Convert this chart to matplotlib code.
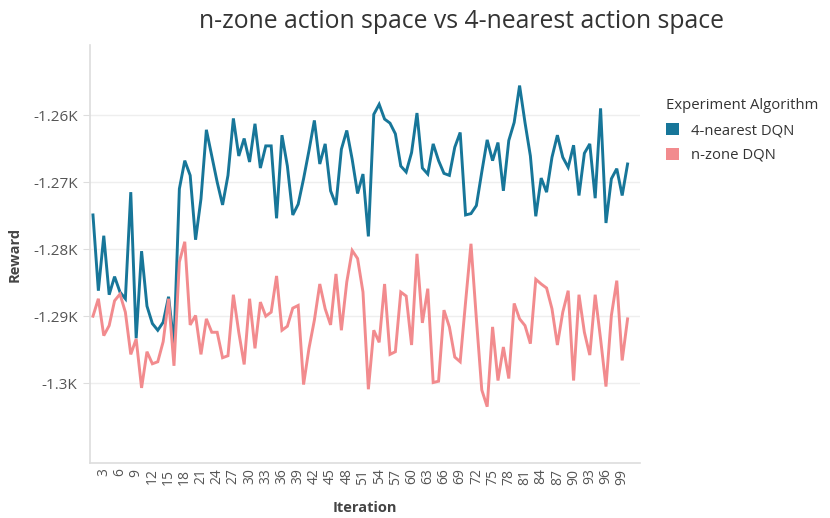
import matplotlib
matplotlib.use("Agg")
import matplotlib.pyplot as plt
from matplotlib.patches import Patch
from matplotlib.ticker import FuncFormatter

plt.rcParams['font.family'] = ['Open Sans', 'DejaVu Sans']

iterations = list(range(1, 101))

nearest4_dqn = [
    -1274.9, -1286.2, -1278.0, -1286.8, -1284.1, -1286.4, -1287.4, -1271.5, -1293.3, -1280.3,
    -1288.5, -1291.1, -1292.1, -1290.9, -1287.1, -1294.3, -1271.0, -1266.8, -1269.0, -1278.6,
    -1272.5, -1262.2, -1266.1, -1270.0, -1273.4, -1269.0, -1260.5, -1266.1, -1263.5, -1267.0,
    -1261.3, -1267.9, -1264.6, -1264.6, -1275.4, -1263.0, -1267.6, -1274.9, -1273.3, -1269.5,
    -1265.3, -1260.8, -1267.3, -1264.3, -1271.3, -1273.4, -1265.1, -1262.3, -1266.6, -1271.7,
    -1268.8, -1278.1, -1259.9, -1258.4, -1260.6, -1261.2, -1262.8, -1267.6, -1268.5, -1265.6,
    -1259.7, -1267.9, -1268.8, -1264.3, -1266.8, -1268.7, -1269.0, -1264.8, -1262.6, -1274.9,
    -1274.7, -1273.5, -1268.5, -1263.7, -1266.8, -1264.1, -1271.3, -1263.8, -1261.1, -1255.6,
    -1261.1, -1266.1, -1275.1, -1269.4, -1271.5, -1266.3, -1263.0, -1266.3, -1267.8, -1264.5,
    -1272.0, -1265.7, -1264.3, -1272.4, -1259.0, -1276.1, -1269.5, -1268.0, -1272.0, -1267.3,
]

nzone_dqn = [
    -1290.0, -1287.4, -1292.9, -1291.4, -1287.7, -1286.7, -1289.4, -1295.7, -1293.4, -1300.7,
    -1295.3, -1297.1, -1296.8, -1293.8, -1287.4, -1297.4, -1281.9, -1278.9, -1291.3, -1289.9,
    -1295.7, -1290.4, -1292.4, -1292.4, -1296.2, -1295.9, -1286.8, -1292.4, -1297.2, -1287.4,
    -1294.8, -1287.9, -1290.0, -1289.4, -1284.0, -1292.1, -1291.5, -1288.8, -1288.4, -1300.2,
    -1294.8, -1290.6, -1285.2, -1288.9, -1291.3, -1283.7, -1292.1, -1284.9, -1280.2, -1281.4,
    -1286.4, -1300.9, -1292.1, -1293.9, -1285.2, -1295.7, -1295.3, -1286.4, -1287.0, -1294.3,
    -1280.7, -1291.0, -1285.9, -1299.9, -1299.7, -1289.1, -1291.6, -1296.1, -1296.8, -1287.9,
    -1279.2, -1290.4, -1301.0, -1303.5, -1291.6, -1299.6, -1294.6, -1299.3, -1288.1, -1290.4,
    -1291.4, -1294.1, -1284.5, -1285.2, -1285.8, -1288.9, -1294.3, -1289.4, -1286.2, -1299.6,
    -1286.8, -1292.4, -1295.8, -1286.8, -1293.4, -1300.5, -1289.9, -1284.7, -1296.6, -1290.4,
]

series_names = ["4-nearest DQN", "n-zone DQN"]
series_colors = ["#177699", "#f28b8e"]
x_ticks = list(range(3, 100, 3))
y_ticks = [-1300, -1290, -1280, -1270, -1260]

fig = plt.figure(figsize=(8.3, 5.18), dpi=100)
ax = fig.add_axes([90/830, 1 - 463/518, 550/830, 418/518])

ax.plot(iterations, nearest4_dqn, color=series_colors[0], lw=2.1, solid_joinstyle='miter', zorder=3)
ax.plot(iterations, nzone_dqn, color=series_colors[1], lw=2.1, solid_joinstyle='miter', zorder=3)

ax.set_xlim(0.45, 102.3)
ax.set_ylim(-1311.9, -1249.55)

ax.set_xticks(x_ticks)
ax.set_xticklabels([str(t) for t in x_ticks], rotation=90, fontsize=10, color='#555555')
ax.tick_params(axis='x', length=0, pad=4)
ax.set_yticks(y_ticks)

def kfmt(v, pos):
    s = f"{v/1000:.3f}".rstrip('0').rstrip('.')
    return s + "K"
ax.yaxis.set_major_formatter(FuncFormatter(kfmt))
ax.tick_params(axis='y', length=5, color='#dddddd', labelsize=11, labelcolor='#555555', pad=4)

ax.grid(axis='y', color='#eeeeee', lw=1)
ax.set_axisbelow(True)
for side in ['top', 'right']:
    ax.spines[side].set_visible(False)
for side in ['left', 'bottom']:
    ax.spines[side].set_color('#dddddd')
    ax.spines[side].set_linewidth(1.2)

fig.text(15/830, 1 - 254/518, "Reward", rotation=90, ha='center', va='center',
         fontsize=10.5, fontweight='bold', color='#444444')
fig.text(365/830, 1 - 508/518, "Iteration", ha='center', va='center',
         fontsize=10.5, fontweight='bold', color='#444444')
fig.text(461/830, 1 - 22/518, "n-zone action space vs 4-nearest action space",
         ha='center', va='center', fontsize=17.8, color='#333333')

handles = [Patch(facecolor=c, edgecolor='none') for c in series_colors]
leg = fig.legend(handles, series_names, title="Experiment Algorithm",
                 loc='upper left', bbox_to_anchor=(653/830, 1 - 85/518),
                 frameon=False, fontsize=10.7, title_fontsize=10.7,
                 handlelength=0.85, handleheight=0.85, handletextpad=0.8,
                 labelspacing=0.65, alignment='left', labelcolor='#333333')
leg.get_title().set_color('#333333')

fig.savefig("out.png", dpi=100)
